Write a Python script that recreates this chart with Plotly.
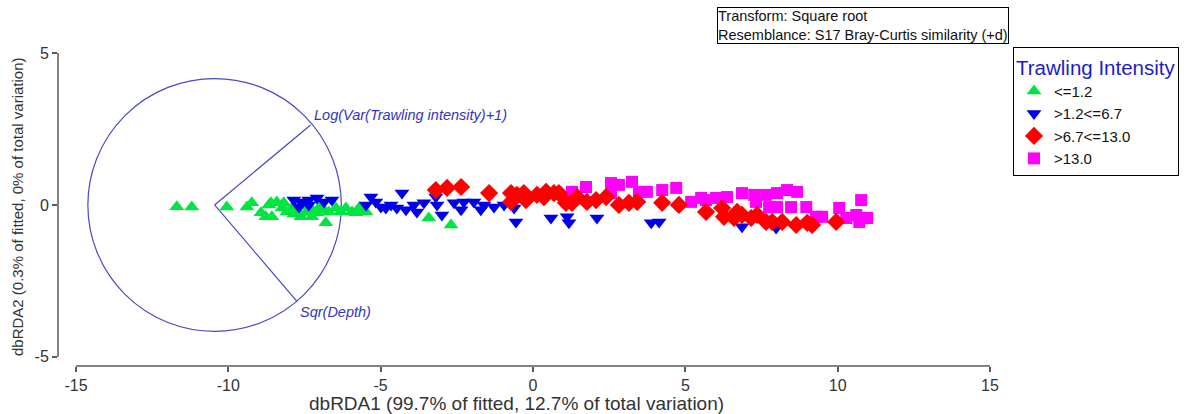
import plotly.graph_objects as go

W, H = 1187, 414
ML, MR, MT, MB = 58, 197, 53, 48

# ---- data ----
g_x = [-11.69, -11.20, -10.05, -9.39, -9.23, -8.60, -8.41, -8.77, -8.57, -8.24, -7.91, -7.68,
       -7.62, -7.45, -7.26, -7.26, -7.03, -6.80, -6.70, -6.47, -6.14, -5.94, -5.81, -5.48,
       -3.42, -2.69, -8.67, -8.08, -7.85, -7.09, -6.86, -6.31, -8.18, -8.93, -7.36, -5.71, -5.61]
g_y = [-0.06, -0.07, -0.07, -0.07, 0.07, 0.07, 0.10, -0.39, -0.39, -0.10, -0.10, -0.26,
       -0.39, -0.23, -0.16, -0.39, -0.10, -0.59, -0.23, -0.10, -0.10, -0.23, -0.26, -0.23,
       -0.43, -0.66, 0.00, -0.23, -0.30, -0.26, -0.16, -0.23, 0.07, -0.26, -0.03, -0.10, -0.13]

b_x = [-7.85, -7.62, -7.36, -7.09, -6.86, -6.60, -7.68, -7.36, -5.32, -5.16, -5.48, -4.99,
       -4.83, -4.66, -4.47, -4.30, -4.17, -3.91, -3.81, -3.58, -3.19, -3.15, -2.99, -2.59,
       -2.36, -2.27, -1.94, -1.71, -1.61, -1.28, -0.95, -0.62, -0.56, 0.59, 1.12, 1.18,
       2.10, 3.88, 4.14, 6.86, 7.98]
b_y = [0.16, 0.10, 0.16, 0.23, 0.10, 0.16, -0.07, 0.00, 0.26, 0.10, 0.00, -0.07,
       -0.10, 0.00, -0.10, 0.39, -0.16, 0.00, -0.23, 0.07, 0.26, 0.00, -0.33, 0.07,
       -0.16, 0.10, 0.10, -0.16, 0.00, -0.07, 0.00, -0.10, -0.56, -0.43, -0.39, -0.59,
       -0.43, -0.59, -0.56, -0.72, -0.76]

r_x = [-3.19, -2.82, -2.36, -1.44, -0.72, -0.53, -0.30, -0.72, 0.13, 0.43, 0.69, 0.85,
       1.08, 1.28, 1.77, 2.07, 2.40, 2.82, 3.15, 3.42, 4.24, 4.79, 5.68, 6.21, 6.27, 6.60,
       6.70, 6.86, 7.16, 7.36, 7.65, 7.85, 8.18, 8.64, 9.00, 9.16, 9.95, -0.23, 0.36, 1.45]
r_y = [0.49, 0.56, 0.59, 0.39, 0.39, 0.33, 0.39, 0.10, 0.33, 0.43, 0.39, 0.39,
       0.07, 0.07, 0.10, 0.16, 0.26, 0.00, 0.07, 0.10, 0.07, 0.00, -0.23, -0.10, -0.39, -0.43,
       -0.23, -0.33, -0.43, -0.33, -0.56, -0.56, -0.56, -0.66, -0.59, -0.66, -0.56, 0.16, 0.26, 0.26]

m_x = [1.28, 1.74, 2.56, 2.82, 3.25, 3.48, 3.74, 4.24, 4.70, 5.19, 5.52, 5.68, 6.01, 6.37,
       6.86, 7.26, 7.65, 8.01, 8.34, 8.67, 7.32, 7.75, 8.01, 8.47, 8.97, 9.29, 9.49, 10.05,
       10.28, 10.61, 10.77, 10.71, 10.97, 2.56]
m_y = [0.43, 0.59, 0.72, 0.66, 0.76, 0.43, 0.43, 0.49, 0.56, 0.10, 0.23, 0.16, 0.23, 0.26,
       0.39, 0.33, 0.33, 0.39, 0.49, 0.43, 0.10, -0.07, -0.07, -0.07, -0.07, -0.39, -0.39, -0.10,
       -0.43, -0.33, 0.16, -0.56, -0.43, 0.39]

group_names = ["<=1.2", ">1.2<=6.7", ">6.7<=13.0", ">13.0"]

circle_center = [-10.45, 0.0]
circle_radius = 4.16
vector_names = ["Log(Var(Trawling intensity)+1)", "Sqr(Depth)"]
vector_dx = [3.15, 2.71]
vector_dy = [2.63, -3.18]

x_ticks = [-15, -10, -5, 0, 5, 10, 15]
y_ticks = [-5, 0, 5]
x_title = "dbRDA1 (99.7% of fitted, 12.7% of total variation)"
y_title = "dbRDA2 (0.3% of fitted, 0% of total variation)"
info_text = "Transform: Square root<br>Resemblance: S17 Bray-Curtis similarity (+d)"
legend_title = "Trawling Intensity"

FONT = "Liberation Sans, Arial, sans-serif"
VEC_COL = "#4848c8"

fig = go.Figure()
fig.add_trace(go.Scatter(x=g_x, y=g_y, mode="markers", name=group_names[0], legendrank=1,
                         marker=dict(symbol="triangle-up", size=13, color="#00e640", line=dict(width=0))))
fig.add_trace(go.Scatter(x=b_x, y=b_y, mode="markers", name=group_names[1], legendrank=2,
                         marker=dict(symbol="triangle-down", size=13, color="#0000e6", line=dict(width=0))))
fig.add_trace(go.Scatter(x=m_x, y=m_y, mode="markers", name=group_names[3], legendrank=4,
                         marker=dict(symbol="square", size=12, color="#ff00ff", line=dict(width=0))))
fig.add_trace(go.Scatter(x=r_x, y=r_y, mode="markers", name=group_names[2], legendrank=3,
                         marker=dict(symbol="diamond", size=14, color="#ff0000", line=dict(width=0))))

shapes = []
cx, cy = circle_center
shapes.append(dict(type="circle", xref="x", yref="y", x0=cx - circle_radius, x1=cx + circle_radius,
                   y0=cy - circle_radius, y1=cy + circle_radius, line=dict(color=VEC_COL, width=1.2),
                   layer="below"))
annotations = []
for name, dx, dy in zip(vector_names, vector_dx, vector_dy):
    shapes.append(dict(type="line", xref="x", yref="y", x0=cx, y0=cy, x1=cx + dx, y1=cy + dy,
                       line=dict(color=VEC_COL, width=1.2), layer="below"))
    annotations.append(dict(x=cx + dx, y=cy + dy, xref="x", yref="y", text="<i>" + name + "</i>",
                            showarrow=False, xanchor="left", yanchor="bottom" if dy > 0 else "top",
                            xshift=1, yshift=0,
                            font=dict(family=FONT, size=14.5, color="#3434c0")))
# axis lines (detached style)
shapes.append(dict(type="line", xref="x", yref="paper", x0=x_ticks[0], x1=x_ticks[-1], y0=0, y1=0,
                   line=dict(color="#5a5a5a", width=1.5)))
shapes.append(dict(type="line", xref="paper", yref="y", x0=0, x1=0, y0=y_ticks[0], y1=y_ticks[-1],
                   line=dict(color="#5a5a5a", width=1.5)))

pw = W - ML - MR
ph = H - MT - MB
def px_x(p):
    return (p - ML) / pw
def px_y(p):
    return (H - MB - p) / ph

annotations.append(dict(x=px_x(516), y=px_y(403), xref="paper", yref="paper", text=x_title,
                        showarrow=False, xanchor="center", yanchor="middle",
                        font=dict(family=FONT, size=19, color="#333333")))
annotations.append(dict(x=px_x(18), y=px_y(207), xref="paper", yref="paper", text=y_title,
                        showarrow=False, xanchor="center", yanchor="middle", textangle=-90,
                        font=dict(family=FONT, size=15, color="#333333")))
annotations.append(dict(x=px_x(717), y=px_y(7), xref="paper", yref="paper", text=info_text,
                        showarrow=False, xanchor="left", yanchor="top", align="left",
                        bordercolor="#000000", borderwidth=1, borderpad=0, bgcolor="white",
                        font=dict(family=FONT, size=14.5, color="#111111")))

tickfont = dict(family=FONT, size=16, color="#333333")
fig.update_layout(
    width=W, height=H,
    margin=dict(l=ML, r=MR, t=MT, b=MB, pad=0, autoexpand=False),
    paper_bgcolor="white", plot_bgcolor="white",
    showlegend=True,
    legend=dict(x=px_x(1013), y=px_y(47), xanchor="left", yanchor="top",
                bordercolor="#000000", borderwidth=1, bgcolor="white",
                title=dict(text=legend_title, font=dict(family=FONT, size=20.5, color="#1c1ccc")),
                font=dict(family=FONT, size=15, color="#111111"), tracegroupgap=0,
                itemwidth=30),
    xaxis=dict(range=[-15.59, 15], showgrid=False, zeroline=False, showline=False,
               ticks="outside", ticklen=5, tickcolor="#5a5a5a", tickwidth=1.5,
               tickvals=x_ticks, ticktext=[str(v) for v in x_ticks], tickfont=tickfont),
    yaxis=dict(range=[-5.3, 5], showgrid=False, zeroline=False, showline=False,
               ticks="outside", ticklen=5, tickcolor="#5a5a5a", tickwidth=1.5,
               tickvals=y_ticks, ticktext=[str(v) for v in y_ticks], tickfont=tickfont),
    shapes=shapes,
    annotations=annotations,
)
fig.write_html("out.html")
